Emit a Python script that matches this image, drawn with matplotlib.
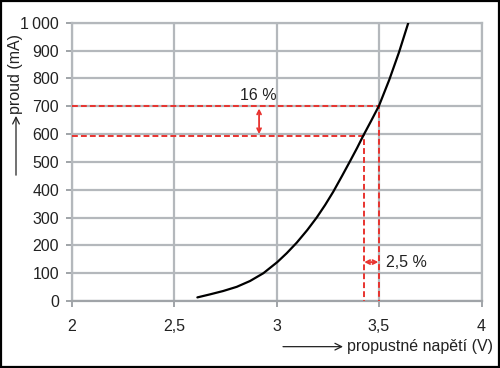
import matplotlib
matplotlib.use("Agg")
import matplotlib.pyplot as plt
from matplotlib.patches import Rectangle

plt.rcParams['font.family'] = ['Liberation Sans', 'DejaVu Sans']

# odečtené body VA charakteristiky
napeti = [2.614, 2.676, 2.740, 2.806, 2.871, 2.936, 3.004, 3.050, 3.099, 3.150,
          3.196, 3.237, 3.277, 3.320, 3.359, 3.393, 3.423, 3.462, 3.500, 3.550,
          3.598, 3.643]
proud = [13, 24, 36, 51, 72, 100, 140, 172, 210, 255,
         300, 345, 393, 450, 503, 550, 594, 648, 702, 795,
         895, 1000]

x_ticks = [2, 2.5, 3, 3.5, 4]
x_labels = ["2", "2,5", "3", "3,5", "4"]
y_ticks = [0, 100, 200, 300, 400, 500, 600, 700, 800, 900, 1000]
y_labels = ["0", "100", "200", "300", "400", "500", "600", "700", "800", "900", "1\u2009000"]

# pracovni body
u1, i1 = 3.425, 592
u2, i2 = 3.50, 700

cervena = "#e8332f"
seda = "#b4b8bc"

fig = plt.figure(figsize=(5, 3.68), dpi=100)
ax = fig.add_axes([0.143, 0.182, 0.82, 0.756])

ax.plot(napeti, proud, color="black", lw=1.6, zorder=5,
        solid_capstyle="round", solid_joinstyle="round")

# prerusovane cary
ax.plot([2, u2, u2], [i2, i2, 0], color=cervena, lw=1.4, ls=(0, (3, 1.6)), zorder=4)
ax.plot([2, u1, u1], [i1, i1, 0], color=cervena, lw=1.4, ls=(0, (3, 1.6)), zorder=4)

# sipky
ax.annotate("", xy=(2.915, i1 + 8), xytext=(2.915, i2 - 8),
            arrowprops=dict(arrowstyle="<->", color=cervena, lw=1.3,
                            mutation_scale=7, shrinkA=0, shrinkB=0))
ax.annotate("", xy=(u1 + 0.003, 140), xytext=(u2 - 0.003, 140),
            arrowprops=dict(arrowstyle="<->", color=cervena, lw=1.3,
                            mutation_scale=7, shrinkA=0, shrinkB=0))
ax.text(2.91, 712, "16 %", ha="center", va="bottom", fontsize=11.5, color="#222222")
ax.text(3.535, 140, "2,5 %", ha="left", va="center", fontsize=11.5, color="#222222")

ax.set_xlim(2, 4)
ax.set_ylim(0, 1000)
ax.set_xticks(x_ticks)
ax.set_xticklabels(x_labels)
ax.set_yticks(y_ticks)
ax.set_yticklabels(y_labels)
ax.grid(True, color=seda, lw=1.6)
ax.set_axisbelow(True)
for s in ax.spines.values():
    s.set_color(seda)
    s.set_linewidth(1.6)
ax.spines["bottom"].set_color("#a0a4a8")
ax.tick_params(axis="both", colors="#a0a4a8", width=1.4, length=4,
               labelcolor="#222222", labelsize=11.5)
ax.tick_params(axis="x", pad=9)
ax.tick_params(axis="y", pad=5)

# popisky os se sipkami
fig.text(0.032, 0.80, "proud (mA)", rotation=90, ha="center", va="center",
         fontsize=11.5, color="#222222")
ax.annotate("", xy=(0.032, 0.685), xytext=(0.032, 0.524), xycoords="figure fraction",
            textcoords="figure fraction",
            arrowprops=dict(arrowstyle="->", color="#222222", lw=0.9,
                            mutation_scale=12, shrinkA=0, shrinkB=0))
fig.text(0.694, 0.058, "propustné napětí (V)", ha="left", va="center",
         fontsize=11.5, color="#222222")
ax.annotate("", xy=(0.686, 0.058), xytext=(0.566, 0.058), xycoords="figure fraction",
            textcoords="figure fraction",
            arrowprops=dict(arrowstyle="->", color="#222222", lw=0.9,
                            mutation_scale=12, shrinkA=0, shrinkB=0))

# ramecek kolem obrazku
fig.patches.append(Rectangle((0.002, 0.003), 0.996, 0.994, transform=fig.transFigure,
                             fill=False, edgecolor="black", lw=1.6))

fig.savefig("out.png", dpi=100)
